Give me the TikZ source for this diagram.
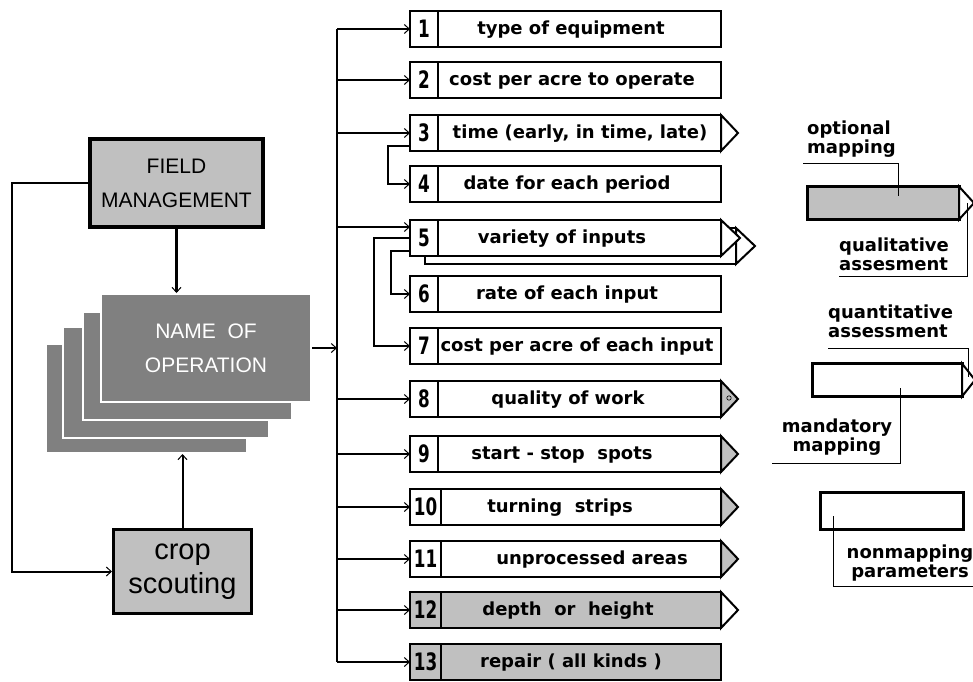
\documentclass[tikz,border=0pt]{standalone}
\usepackage{fontspec}
\newfontfamily\labfont{DejaVu Sans}
\newfontfamily\numfont{DejaVu Sans}[FakeStretch=0.7]
\newfontfamily\capfont{Liberation Sans}
\usetikzlibrary{arrows.meta,positioning}
\definecolor{lgray}{RGB}{192,192,192}
\definecolor{dgray}{RGB}{128,128,128}

\begin{document}
\begin{tikzpicture}[x=1pt,y=-1pt,
	conn/.style={line width=2pt},
	barb/.style={-{Straight Barb[length=5pt,width=9pt,line width=1pt]}},
	item/.style={draw,line width=2.8pt,minimum width=311pt,minimum height=36pt,inner sep=0pt,outer sep=0pt},
	lbl/.style={font=\labfont\bfseries\fontsize{18}{20}\selectfont,inner sep=0pt,text height=15pt,text depth=4pt},
	num/.style={font=\numfont\bfseries\fontsize{24}{24}\selectfont,inner sep=0pt},
	tri/.style={draw,line width=2pt},
	card/.style={fill=dgray,draw=white,line width=2pt,inner sep=0pt},
	leg/.style={font=\labfont\bfseries\fontsize{18}{19}\selectfont,inner sep=0pt},
	legbox/.style={draw,line width=3pt,minimum height=33pt,inner sep=0pt,outer sep=0pt},
	leader/.style={line width=1pt}]

    \useasboundingbox (0,0) rectangle (973,681);

	% left part
	\node[draw,line width=3.5pt,fill=lgray,minimum width=173pt,minimum height=88pt,align=center,
	      font=\capfont\fontsize{21}{34}\selectfont] (fm) at (176.5,183) {FIELD\\MANAGEMENT};
	\node[card,minimum width=201pt,minimum height=109pt] (card4) at (146.5,398.5) {}; % back
	\node[card,minimum width=206pt,minimum height=111pt] (card3) at (166,382.5) {};
	\node[card,minimum width=209pt,minimum height=108pt] (card2) at (187.5,366) {};
	\node[card,minimum width=210pt,minimum height=108pt,text=white,align=center,
	      font=\capfont\fontsize{21}{34}\selectfont] (op) at (206,348) {NAME\ \ OF\\OPERATION};
	\node[draw,line width=3pt,fill=lgray,minimum width=138pt,minimum height=84pt,align=center,
	      font=\capfont\fontsize{29}{34}\selectfont] (crop) at (182.5,571.5) {crop\\scouting};

	\coordinate (fbk) at (12,0);
	\draw[line width=3.5pt,barb] (fm.south) -- (fm.south |- op.north);
	\draw[conn,barb] (crop.north) -- (crop.north |- card4.south);
	\draw[conn,barb] (fm.west) -- (fm.west -| fbk) |- (crop.west); % feedback

	% parameter list
	\coordinate (bustop) at (337,29);
	\coordinate (busbot) at (337,662);
	\draw[conn,barb] (op.east) -- (op.east -| bustop);
	\draw[conn] (bustop) -- (busbot);

	\node[item,fill=white] (n5b) at (580.5,246) {}; % several inputs
	\draw[tri,fill=white] (n5b.north east) -- ([xshift=19pt]n5b.east) -- (n5b.south east) -- cycle;

	\foreach \i/\y/\xc/\dv/\fc/\txt in {
	    1/29/571/28/white/{type of equipment},
	    2/80/572/28/white/{cost per acre to operate},
	    3/133/580/28/white/{time (early, in time, late)},
	    4/184/567/28/white/{date for each period},
	    5/238/562/28/white/{variety of inputs},
	    6/294/567/28/white/{rate of each input},
	    7/346/577/28/white/{cost per acre of each input},
	    8/399/568/28/white/{quality of work},
	    9/454/562/28/white/{start - stop\ \ spots},
	    10/507/560/31/white/{turning\ \ strips},
	    11/559/592/31/white/{unprocessed areas},
	    12/610/568/31/lgray/{depth\ \ or\ \ height},
	    13/662/571/31/lgray/{repair ( all kinds )}}{
	  \node[item,fill=\fc] (n\i) at (565.5,\y) {};
	  \draw[line width=2.8pt] ([xshift=\dv]n\i.north west) -- ([xshift=\dv]n\i.south west);
	  \node[num] (k\i) at ([xshift=\dv/2]n\i.west) {\i};
	  \node[lbl] (t\i) at (\xc,\y) {\txt};
	}

	\foreach \i/\w/\fc in {3/17/white,5/19/white,8/17/lgray,9/17/lgray,10/17/lgray,11/17/lgray,12/17/white}
	  \draw[tri,fill=\fc] (n\i.north east) -- ([xshift=\w]n\i.east) -- (n\i.south east) -- cycle;
	\draw[line width=0.6pt] (729,398) circle (2.2); % mark

	\foreach \i in {1,2,3,8,9,10,11,12,13}
	  \draw[conn,barb] (bustop |- n\i.west) -- (n\i.west);
	\coordinate (in5) at ([yshift=11pt]n5.west);
	\draw[conn,barb] (bustop |- in5) -- (in5);
	\draw[conn,barb] ([yshift=-13pt]n3.west) -- ++(-22,0) |- (n4.west);
	\draw[conn,barb] ([yshift=-13pt]n5.west) -- ++(-19,0) |- (n6.west);
	\draw[conn,barb] (n5.west) -- ++(-36,0) |- (n7.west);

	% legend
	\node[legbox,fill=lgray,minimum width=152pt] (optbox) at (883,203) {};
	\draw[tri,fill=white] (optbox.north east) -- ([xshift=15pt]optbox.east) -- (optbox.south east) -- cycle;
	\node[leg,align=left,anchor=south west] (optlbl) at (807,158) {optional\\mapping};
	\node[leg,align=left,anchor=south west] (quallbl) at (839,271) {qualitative\\assesment};
	\coordinate (optpt) at (898,196);
	\coordinate (qualpt) at (967,203);
	\draw[leader] ([xshift=-4pt,yshift=-5pt]optlbl.south west) -| (optpt);
	\draw[leader] (qualpt) |- ([yshift=-5pt]quallbl.south west);

	\node[legbox,fill=white,minimum width=150pt] (mandbox) at (887,380) {};
	\draw[tri,fill=white] (mandbox.north east) -- ([xshift=13pt]mandbox.east) -- (mandbox.south east) -- cycle;
	\node[leg,align=left,anchor=south west] (quantlbl) at (828,338) {quantitative\\assessment};
	\node[leg,align=center,anchor=south] (mandlbl) at (837,456) {mandatory\\mapping};
	\coordinate (quantpt) at (968,377);
	\coordinate (mandpt) at (900,388);
	\draw[leader] ([yshift=-10pt]quantlbl.south west) -| (quantpt);
	\draw[leader] (mandpt) |- ([xshift=-10pt,yshift=-7pt]mandlbl.south west);

	\node[legbox,fill=white,minimum width=143pt,minimum height=37pt] (nonbox) at (891.5,510.5) {};
	\node[leg,align=center,anchor=south] (nonlbl) at (910,581) {nonmapping\\parameters};
	\coordinate (nonpt) at (833,516);
	\draw[leader] (nonpt) |- ([xshift=10pt,yshift=-5pt]nonlbl.south east);

\end{tikzpicture}
\end{document}
